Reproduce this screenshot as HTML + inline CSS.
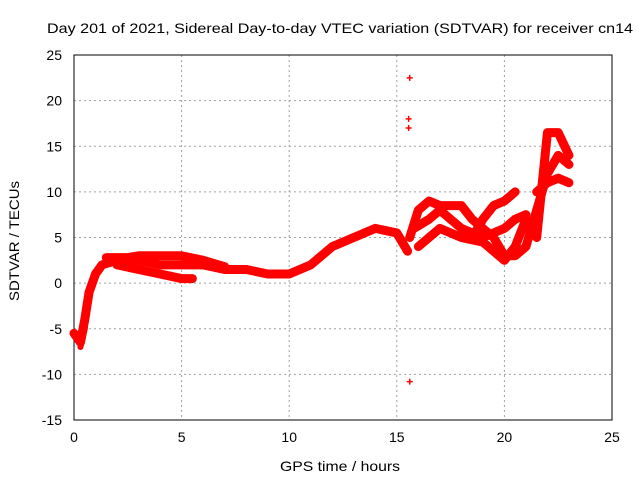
<!DOCTYPE html>
<html><head><meta charset="utf-8"><style>
body{margin:0;background:#fff}
svg text{font-family:"Liberation Sans",sans-serif;font-size:14px;fill:#000}
</style></head><body>
<svg id="c" width="640" height="480"></svg>
<script>
const xTicks=[0,5,10,15,20,25];
const yTicks=[-15,-10,-5,0,5,10,15,20,25];
const trackA=[[0,-5.5],[0.3,-6.5],[0.5,-4],[0.7,-1],[1,1],[1.3,2],[2,2.5],[3,2.5],[4,2],[5,2],[6,2],[7,1.5],[8,1.5],[9,1],[10,1],[11,2],[12,4],[13,5],[14,6],[15,5.5],[15.5,3.5]];
const trackA2=[[0.3,-7],[0.5,-5],[0.6,-2],[0.9,0]];
const trackB=[[1.5,2.8],[2.5,2.8],[3,3],[4,3],[5,3],[6,2.5],[7,1.8]];
const trackC=[[2,2],[3,1.5],[4,1],[5,0.5],[5.5,0.5]];
const trackD=[[15.6,5],[16,8],[16.5,9],[17,8.5],[17.5,8.5],[18,8.5],[18.5,7],[19,6],[19.5,5],[20,3],[20.5,3],[21,4],[21.5,8],[22,12],[22.5,14],[23,13]];
const trackE=[[15.8,6],[16.5,7],[17,8],[18,6],[19,5],[20,6],[20.5,7],[21,7.5]];
const trackF=[[16,4],[17,6],[18,5],[19,4.5],[19.5,3.5],[20,2.5],[20.5,4],[21,7],[21.5,5],[22,16.5],[22.5,16.5],[23,14]];
const trackG=[[18.5,5],[19,7],[19.5,8.5],[20,9],[20.5,10]];
const trackH=[[21.5,10],[22,11],[22.5,11.5],[23,11]];
const outliers=[[15.6,22.5],[15.55,18],[15.55,17],[15.6,-10.8],[0,-5.5]];
const tracks=[trackA,trackB,trackC,trackD,trackE,trackF,trackG,trackH];

const L=74,R=612,T=55,B=420;
const sx=v=>L+(v-0)/(25-0)*(R-L);
const sy=v=>B-(v+15)/(40)*(B-T);
const svg=document.getElementById('c');
const NS='http://www.w3.org/2000/svg';
function mk(t,a){const e=document.createElementNS(NS,t);for(const k in a)e.setAttribute(k,a[k]);svg.appendChild(e);return e;}
let e;
xTicks.forEach(v=>{
 if(v>0&&v<25){e=mk('line',{x1:sx(v),x2:sx(v),y1:T,y2:B,stroke:'#a0a0a0','stroke-dasharray':'2,3'});
 }
 e=mk('text',{x:sx(v),y:B+22,'text-anchor':'middle'});e.textContent=v;
 
});
yTicks.forEach(v=>{
 if(v>-15&&v<25){e=mk('line',{x1:L,x2:R,y1:sy(v),y2:sy(v),stroke:'#a0a0a0','stroke-dasharray':'2,3'});
 }
 e=mk('text',{x:L-12,y:sy(v)+5,'text-anchor':'end'});e.textContent=v;
 
});
e=mk('rect',{x:L,y:T,width:R-L,height:B-T,fill:'none',stroke:'#000'});

tracks.forEach(tr=>{
 e=mk('polyline',{points:tr.map(p=>sx(p[0])+','+sy(p[1])).join(' '),fill:'none',stroke:'#f00','stroke-width':9,'stroke-linejoin':'round','stroke-linecap':'round'});
 
});
e=mk('polyline',{points:trackA2.map(p=>sx(p[0])+','+sy(p[1])).join(' '),fill:'none',stroke:'#f00','stroke-width':6,'stroke-linejoin':'round','stroke-linecap':'round'});

tracks.concat([outliers]).forEach(tr=>tr.forEach(p=>{
 const x=sx(p[0]),y=sy(p[1]);
 e=mk('path',{d:`M${x-3},${y}H${x+3}M${x},${y-3}V${y+3}`,stroke:'#f00','stroke-width':1.5});
 
}));
e=mk('text',{x:47,y:33,textLength:586,lengthAdjust:'spacingAndGlyphs'});e.textContent='Day 201 of 2021, Sidereal Day-to-day VTEC variation (SDTVAR) for receiver cn14';

e=mk('text',{x:280,y:471,textLength:120,lengthAdjust:'spacingAndGlyphs'});e.textContent='GPS time / hours';

e=mk('text',{x:0,y:0,textLength:120,lengthAdjust:'spacingAndGlyphs',transform:'translate(19,301) rotate(-90)'});e.textContent='SDTVAR / TECUs';

</script>
</body></html>
